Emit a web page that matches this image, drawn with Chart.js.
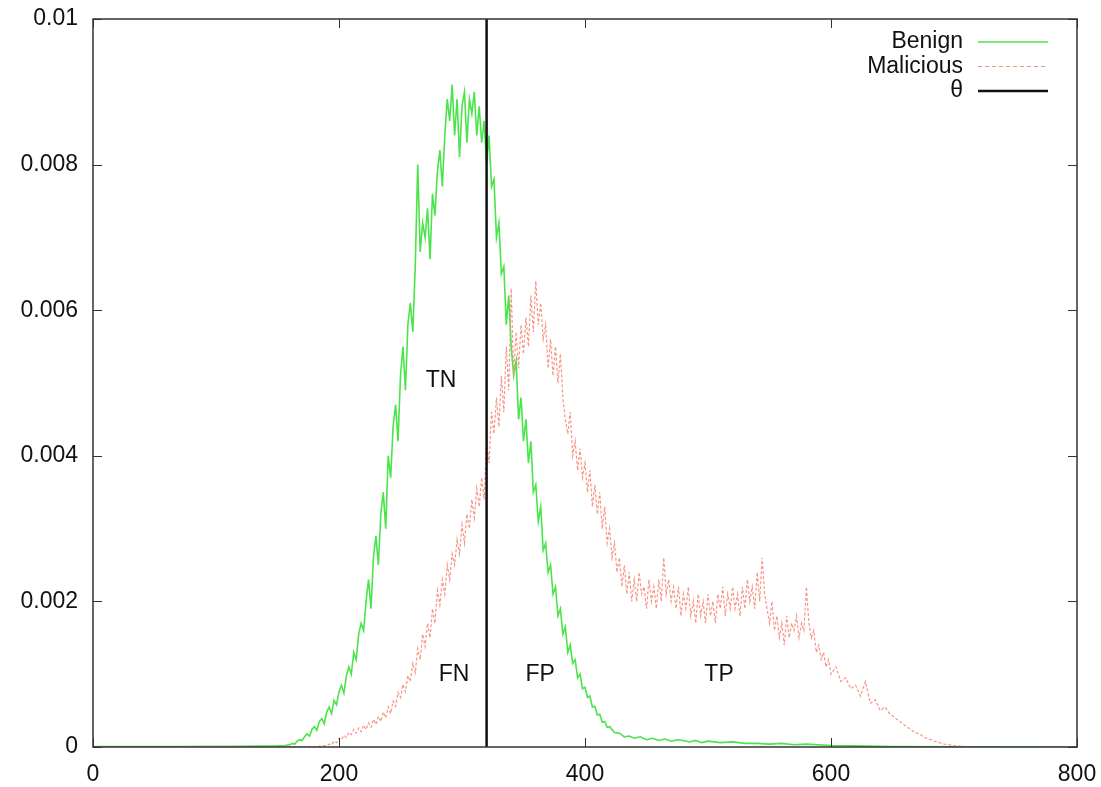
<!DOCTYPE html>
<html>
<head>
<meta charset="utf-8">
<script src="https://cdn.jsdelivr.net/npm/chart.js@4.4.1/dist/chart.umd.min.js"></script>
<style>
  html, body { margin: 0; padding: 0; background: #fff; }
  #wrap { width: 1101px; height: 787px; }
</style>
</head>
<body>
<div id="wrap"><canvas id="c" width="1101" height="787"></canvas></div>
<script>
// Values of both densities are stored in units of 1e-4
const VALUE_UNIT = 1e-4;

// Benign: [x, density / 1e-4]
const benignPoints = [
  [0,0.05],[60,0.05],[120,0.08],[150,0.15],[156,0.2],
  [160,0.3],[162,0.5],[164,0.4],[166,0.8],[168,1.0],[170,0.9],[172,1.4],[174,1.8],[176,1.5],[178,2.4],
  [180,2.8],[182,2.3],[184,3.5],[186,3.9],[188,3.2],[190,4.8],[192,5.5],[194,4.6],[196,6.4],[198,5.8],
  [200,7.6],[202,8.5],[204,7.4],[206,9.8],[208,11],[210,10],[212,13],[214,12],[216,15.5],[218,17],
  [220,16],[222,20],[224,23],[226,19],[228,26],[230,29],[232,25],[234,32],[236,35],[238,30],
  [240,40],[242,37],[244,44],[246,47],[248,42],[250,51],[252,55],[254,49],[256,58],[258,61],
  [260,57],[262,66],[264,80],[266,68],[268,72],[270,70],[272,74],[274,67],[276,76],[278,73],
  [280,79],[282,82],[284,77],[286,84],[288,89],[290,86],[292,91],[294,84],[296,89],[298,81],
  [300,88],[302,90],[304,83],[306,89],[308,87],[310,90],[312,84],[314,88],[316,83],[318,86],
  [320,80],[322,84],[324,77],[326,78],[328,70],[330,72],[332,65],[334,66],[336,58],[338,62],
  [340,55],[342,51],[344,53],[346,45],[348,48],[350,42],[352,45],[354,39],[356,42],[358,35],
  [360,36],[362,31],[364,33],[366,27],[368,28],[370,24],[372,25],[374,21],[376,22],[378,18],
  [380,19],[382,15.5],[384,16.5],[386,13],[388,14],[390,11.5],[392,12],[394,9.5],[396,10],[398,8],
  [400,8.2],[402,6.8],[404,7],[406,5.5],[408,5.6],[410,4.4],[412,4.5],[414,3.4],[416,3.5],[418,2.7],
  [420,2.8],[424,2],[428,1.9],[432,1.4],[436,1.5],[440,1.2],[445,1.4],[450,1.0],[455,1.2],[460,0.9],
  [465,1.1],[470,0.8],[475,1.0],[480,0.9],[485,0.7],[490,0.9],[495,0.6],[500,0.8],[510,0.6],[520,0.7],
  [530,0.5],[540,0.5],[550,0.4],[560,0.5],[570,0.3],[580,0.4],[600,0.2],[620,0.15],[650,0.05],[700,0.02],[800,0]
];

// Malicious: [x, density / 1e-4]
const maliciousPoints = [
  [0,0],[120,0],[180,0.05],
  [190,0.2],[192,0.4],[194,0.3],[196,0.8],[198,0.6],[200,1.2],[202,1.0],[204,1.6],[206,1.3],[208,2.0],
  [210,1.7],[212,2.4],[214,1.9],[216,2.6],[218,2.1],[220,3.0],[222,2.4],[224,3.3],[226,2.7],[228,3.8],
  [230,3.1],[232,4.2],[234,3.5],[236,4.8],[238,4.0],[240,5.5],[242,4.6],[244,6.3],[246,5.6],[248,7.5],
  [250,6.8],[252,8.6],[254,7.6],[256,9.8],[258,9.0],[260,11.5],[262,10.2],[264,13.5],[266,12],[268,15.5],
  [270,13.8],[272,17],[274,15],[276,19],[278,17],[280,21.5],[282,19.5],[284,23],[286,21],[288,25],
  [290,23],[292,26.5],[294,25],[296,28.5],[298,26.5],[300,30.5],[302,28],[304,32],[306,30],[308,34],
  [310,31.5],[312,35.5],[314,33],[316,37],[318,34],[320,42],[322,39],[324,46],[326,43],[328,48],
  [330,44],[332,51],[334,46],[336,55],[338,49],[340,63],[342,51],[344,57],[346,52],[348,58],
  [350,54],[352,59],[354,55],[356,62],[358,57],[360,64],[362,58],[364,61],[366,56],[368,58],
  [370,52],[372,56],[374,51],[376,55],[378,50],[380,54],[382,48],[384,45],[386,43],[388,46],
  [390,40],[392,42],[394,38],[396,41],[398,37],[400,39],[402,35],[404,38],[406,33],[408,36],
  [410,32],[412,35],[414,30],[416,33],[418,28],[420,30],[422,26],[424,28],[426,24],[428,26],
  [430,22],[432,25],[434,21],[436,24],[438,20],[440,23],[442,20],[444,24],[446,21],[448,22],
  [450,19],[452,23],[454,20],[456,22],[458,19],[460,23],[462,20],[464,26],[466,21],[468,23],
  [470,20],[472,22],[474,19],[476,22],[478,18],[480,21],[482,19],[484,22],[486,18],[488,20],
  [490,17],[492,21],[494,18],[496,20],[498,17],[500,21],[502,18],[504,20],[506,17],[508,21],
  [510,19],[512,22],[514,18],[516,21],[518,19],[520,22],[522,19],[524,21],[526,18],[528,22],
  [530,19],[532,23],[534,20],[536,22],[538,19],[540,24],[542,20],[544,26],[546,21],[548,19],
  [550,17],[552,20],[554,16],[556,18],[558,15],[560,17],[562,14],[564,18],[566,15],[568,17],
  [570,16],[572,18],[574,15],[576,17],[578,16],[580,22],[582,17],[584,15],[586,16],[588,13],
  [590,14],[592,12],[594,13],[596,11],[598,12],[600,10],[604,11],[608,9],[612,9.5],[616,8],
  [620,8.5],[624,7],[628,9],[632,6],[636,6.5],[640,5],[644,5.5],[648,4.5],[652,4],[656,3.5],
  [660,3],[664,2.5],[668,2],[672,1.8],[676,1.3],[680,1.1],[684,0.8],[688,0.6],[692,0.4],[696,0.3],
  [700,0.2],[706,0.1],[712,0]
];

const thresholdX = 320;
const thresholdYRange = [0, 0.01];

const seriesNames = ['Benign', 'Malicious', 'θ'];

const xTickValues = [0, 200, 400, 600, 800];
const xTickLabels = ['0', '200', '400', '600', '800'];
const yTickValues = [0, 0.002, 0.004, 0.006, 0.008, 0.01];
const yTickLabels = ['0', '0.002', '0.004', '0.006', '0.008', '0.01'];

const regionLabels = ['TN', 'FN', 'FP', 'TP'];
const regionLabelX = [283, 293.5, 363.5, 509];
const regionLabelY = [0.00503, 0.001, 0.001, 0.001];

// ---- styles ----
const FONT = '"Liberation Sans", Arial, Helvetica, sans-serif';
const GREEN = 'rgb(75,228,75)';
const SALMON = 'rgb(246,150,135)';
const BLACK = '#111';

const toXY = pts => pts.map(p => ({ x: p[0], y: p[1] * VALUE_UNIT }));

const noEdgePadding = s => {
  s.paddingLeft = 0; s.paddingRight = 0; s.paddingTop = 0; s.paddingBottom = 0;
};

const frame = {
  id: 'frame',
  afterDraw(chart) {
    const { ctx, chartArea: a, scales } = chart;
    ctx.save();
    ctx.strokeStyle = '#333';
    ctx.lineWidth = 1.5;
    ctx.strokeRect(a.left, a.top, a.right - a.left, a.bottom - a.top);
    const tl = 9;
    ctx.lineWidth = 1;
    ctx.beginPath();
    xTickValues.forEach(v => {
      const px = Math.round(scales.x.getPixelForValue(v)) + 0.5;
      ctx.moveTo(px, a.bottom); ctx.lineTo(px, a.bottom - tl);
      ctx.moveTo(px, a.top); ctx.lineTo(px, a.top + tl);
    });
    yTickValues.forEach(v => {
      const py = Math.round(scales.y.getPixelForValue(v)) + 0.5;
      ctx.moveTo(a.left, py); ctx.lineTo(a.left + tl, py);
      ctx.moveTo(a.right, py); ctx.lineTo(a.right - tl, py);
    });
    ctx.stroke();

    ctx.fillStyle = BLACK;
    ctx.font = '23px ' + FONT;
    ctx.textAlign = 'center';
    ctx.textBaseline = 'middle';
    regionLabels.forEach((t, i) => {
      ctx.fillText(t, scales.x.getPixelForValue(regionLabelX[i]), scales.y.getPixelForValue(regionLabelY[i]));
    });

    const styles = [
      { color: GREEN, width: 1.6, dash: [] },
      { color: SALMON, width: 1.2, dash: [4, 3] },
      { color: BLACK, width: 2.5, dash: [] }
    ];
    ctx.textAlign = 'right';
    seriesNames.forEach((name, i) => {
      const y = 42 + i * 24.5;
      ctx.fillStyle = BLACK;
      ctx.fillText(name, 963, y);
      ctx.beginPath();
      ctx.strokeStyle = styles[i].color;
      ctx.lineWidth = styles[i].width;
      ctx.setLineDash(styles[i].dash);
      ctx.moveTo(978, y); ctx.lineTo(1048, y);
      ctx.stroke();
    });
    ctx.restore();
  }
};

new Chart(document.getElementById('c'), {
  type: 'scatter',
  data: {
    datasets: [
      {
        label: seriesNames[2],
        data: thresholdYRange.map(v => ({ x: thresholdX, y: v })),
        showLine: true, borderColor: BLACK, borderWidth: 2.5,
        pointRadius: 0, order: 0
      },
      {
        label: seriesNames[1],
        data: toXY(maliciousPoints),
        showLine: true, borderColor: SALMON, borderWidth: 1.2, borderDash: [3, 2],
        pointRadius: 0, tension: 0, order: 1
      },
      {
        label: seriesNames[0],
        data: toXY(benignPoints),
        showLine: true, borderColor: GREEN, borderWidth: 1.6,
        pointRadius: 0, tension: 0, order: 2
      }
    ]
  },
  options: {
    responsive: false,
    animation: false,
    devicePixelRatio: 1,
    layout: { padding: { left: 0, top: 19, right: 24, bottom: 0 } },
    plugins: { legend: { display: false }, tooltip: { enabled: false } },
    scales: {
      x: {
        type: 'linear', min: 0, max: 800,
        afterBuildTicks: s => { s.ticks = xTickValues.map(v => ({ value: v })); },
        afterFit: s => { s.height = 40; noEdgePadding(s); },
        grid: { display: false, drawTicks: false },
        border: { display: false },
        ticks: {
          padding: 14, color: BLACK, font: { family: FONT, size: 23 },
          maxRotation: 0, autoSkip: false,
          callback: (v, i) => xTickLabels[i]
        }
      },
      y: {
        type: 'linear', min: 0, max: 0.01,
        afterBuildTicks: s => { s.ticks = yTickValues.map(v => ({ value: v })); },
        afterFit: s => { s.width = 93; noEdgePadding(s); },
        grid: { display: false, drawTicks: false },
        border: { display: false },
        ticks: {
          padding: 15, color: BLACK, font: { family: FONT, size: 23 },
          autoSkip: false,
          callback: (v, i) => yTickLabels[i]
        }
      }
    }
  },
  plugins: [frame]
});
</script>
</body>
</html>
